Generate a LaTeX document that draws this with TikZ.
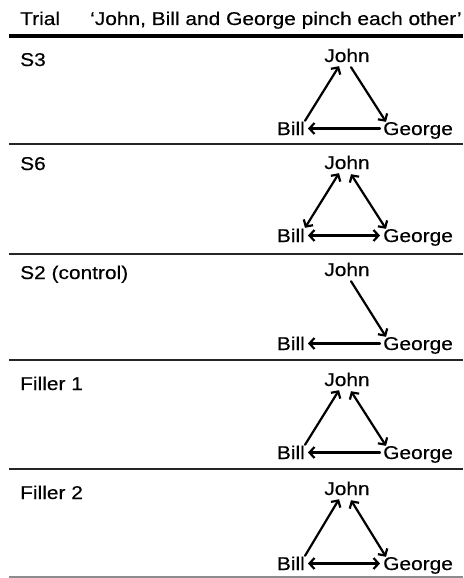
\documentclass[tikz,border=0pt]{standalone}
\usepackage{fontspec}
\setmainfont{Liberation Sans}[FakeStretch=1.13, FakeBold=0.4]
\usetikzlibrary{arrows.meta}

\tikzset{
  word/.style={inner xsep=3pt, inner ysep=0pt, text height=13pt, text depth=0pt},
  pinch/.style={line width=2.2pt, line cap=round, >={Straight Barb[length=5pt,width=11pt]}},
  rule/.style={line width=2pt, black!85},
}

\begin{document}
\begin{tikzpicture}[x=1pt, y=-1pt, font=\fontsize{18.5}{20}\selectfont]
  \useasboundingbox (0,0) rectangle (463,578);
  % header
  \node[word, anchor=base west, inner xsep=0pt](trial) at (20, 25) {Trial};
  \node[word, anchor=base west, inner xsep=0pt](sentence) at (90, 25) {‘John, Bill and George pinch each other’};
  \draw[line width=4.5pt] (9, 36) -- (463, 36);
  % S3
  \node[word, anchor=base west, inner xsep=0pt](l1) at (20, 66) {S3};
  \node[word, anchor=base](j1) at (347, 62) {John};
  \node[word, anchor=base east](b1) at (308, 135) {Bill};
  \node[word, anchor=base west](g1) at (380, 135) {George};
  \draw[pinch, ->] ([xshift=-3pt, yshift=1pt]b1.north east) -- ([xshift=-8pt, yshift=-4pt]j1.south);
  \draw[pinch, ->] ([xshift=4pt, yshift=-5pt]j1.south) -- ([xshift=6pt]g1.north west);
  \draw[pinch, ->] (g1.west) -- (b1.east);
  \draw[rule] (9, 144) -- (463, 144);
  % S6
  \node[word, anchor=base west, inner xsep=0pt](l2) at (20, 170) {S6};
  \node[word, anchor=base](j2) at (347, 169) {John};
  \node[word, anchor=base east](b2) at (308, 242) {Bill};
  \node[word, anchor=base west](g2) at (380, 242) {George};
  \draw[pinch, <->] ([xshift=-3pt, yshift=1pt]b2.north east) -- ([xshift=-8pt, yshift=-4pt]j2.south);
  \draw[pinch, <->] ([xshift=4pt, yshift=-5pt]j2.south) -- ([xshift=6pt]g2.north west);
  \draw[pinch, <->] (g2.west) -- (b2.east);
  \draw[rule] (9, 254) -- (463, 254);
  % S2 (control)
  \node[word, anchor=base west, inner xsep=0pt](l3) at (20, 279) {S2 (control)};
  \node[word, anchor=base](j3) at (347, 276) {John};
  \node[word, anchor=base east](b3) at (308, 350) {Bill};
  \node[word, anchor=base west](g3) at (380, 350) {George};
  \draw[pinch, ->] ([xshift=4pt, yshift=-5pt]j3.south) -- ([xshift=6pt]g3.north west);
  \draw[pinch, ->] (g3.west) -- (b3.east);
  \draw[rule] (9, 360) -- (463, 360);
  % Filler 1
  \node[word, anchor=base west, inner xsep=0pt](l4) at (20, 390) {Filler 1};
  \node[word, anchor=base](j4) at (347, 386) {John};
  \node[word, anchor=base east](b4) at (308, 459) {Bill};
  \node[word, anchor=base west](g4) at (380, 459) {George};
  \draw[pinch, ->] ([xshift=-3pt, yshift=1pt]b4.north east) -- ([xshift=-8pt, yshift=-4pt]j4.south);
  \draw[pinch, <->] ([xshift=4pt, yshift=-5pt]j4.south) -- ([xshift=6pt]g4.north west);
  \draw[pinch, ->] (g4.west) -- (b4.east);
  \draw[rule] (9, 469) -- (463, 469);
  % Filler 2
  \node[word, anchor=base west, inner xsep=0pt](l5) at (20, 499) {Filler 2};
  \node[word, anchor=base](j5) at (347, 495) {John};
  \node[word, anchor=base east](b5) at (308, 570) {Bill};
  \node[word, anchor=base west](g5) at (380, 570) {George};
  \draw[pinch, ->] ([xshift=-3pt, yshift=1pt]b5.north east) -- ([xshift=-8pt, yshift=-4pt]j5.south);
  \draw[pinch, <->] ([xshift=4pt, yshift=-5pt]j5.south) -- ([xshift=6pt]g5.north west);
  \draw[pinch, <->] (g5.west) -- (b5.east);
  \draw[line width=1.2pt, black!45] (9, 577) -- (463, 577);
\end{tikzpicture}
\end{document}
